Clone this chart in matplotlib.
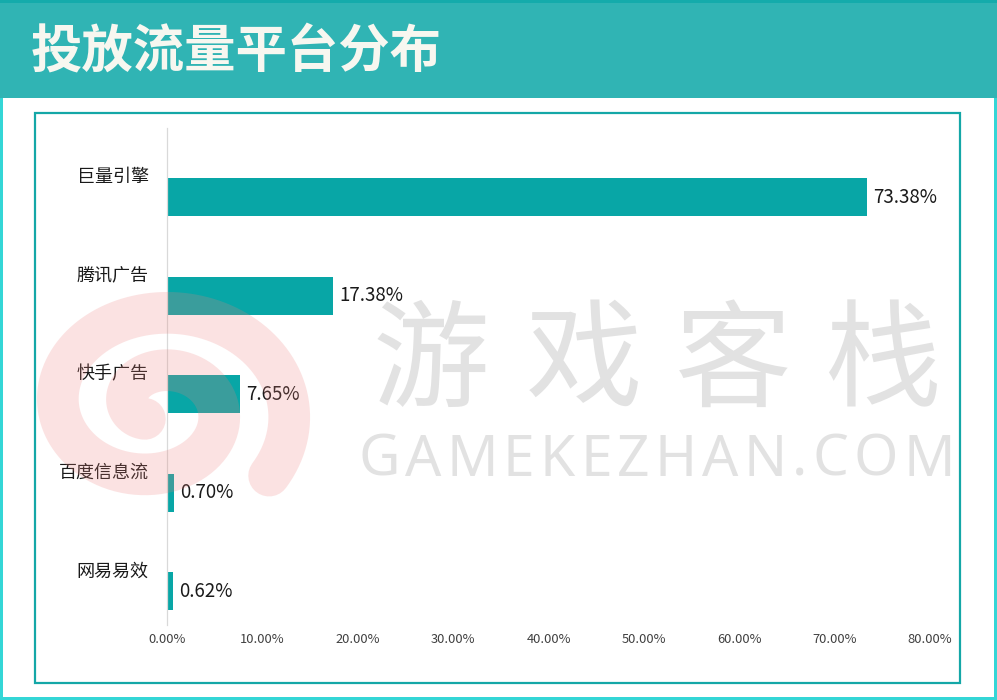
import matplotlib
matplotlib.use('Agg')
import matplotlib.pyplot as plt
from matplotlib.patches import Rectangle
import numpy as np

plt.rcParams['font.family'] = ['Noto Sans CJK SC', 'DejaVu Sans']

# ---- data ----
categories = ['巨量引擎', '腾讯广告', '快手广告', '百度信息流', '网易易效']
values = [73.38, 17.38, 7.65, 0.70, 0.62]
x_ticks = [0, 10, 20, 30, 40, 50, 60, 70, 80]

title = '投放流量平台分布'

# ---- colours ----
header_teal = '#30b4b4'
header_top = '#14abab'
frame_cyan = '#34d6d6'
inner_border = '#14a7a7'
bar_teal = '#08a6a6'
text_dark = '#1a1a1a'
tick_grey = '#404040'

W, H = 997, 700
fig = plt.figure(figsize=(W / 100, H / 100), dpi=100)
fig.patch.set_facecolor('white')

# background / frame drawn in pixel coordinates
bg = fig.add_axes([0, 0, 1, 1], zorder=0)
bg.set_xlim(0, W)
bg.set_ylim(H, 0)
bg.axis('off')
bg.add_patch(Rectangle((0, 0), W, H, facecolor=frame_cyan, edgecolor='none'))
bg.add_patch(Rectangle((3, 98), W - 6, H - 101, facecolor='white', edgecolor='none'))
bg.add_patch(Rectangle((0, 0), W, 98, facecolor=header_teal, edgecolor='none'))
bg.add_patch(Rectangle((0, 0), W, 3, facecolor=header_top, edgecolor='none'))
bg.add_patch(Rectangle((35, 113), 925, 570, facecolor='white',
                       edgecolor=inner_border, linewidth=1.6))
bg.text(31, 51, title, ha='left', va='center', fontsize=37,
        fontweight='bold', color='#f7f7f0')

# ---- bar chart ----
ax = fig.add_axes([167 / W, 1 - 625 / H, 763 / W, 497 / H], zorder=1)
ax.patch.set_alpha(0)
ypos = np.arange(len(categories))
ax.barh(ypos, values, height=0.385, color=bar_teal, edgecolor='none')
ax.set_xlim(0, 80)
ax.set_ylim(len(categories) - 1 + 0.34, -0.70)

for sp in ['top', 'right', 'bottom']:
    ax.spines[sp].set_visible(False)
ax.spines['left'].set_color('#d9d9d9')
ax.spines['left'].set_linewidth(0.9)

ax.set_yticks([])
ax.set_xticks(x_ticks)
ax.set_xticklabels([f'{t:.2f}%' for t in x_ticks], fontsize=9.3, color=tick_grey)
ax.tick_params(axis='x', length=0, pad=6)

# category labels sit slightly above each bar
for i, name in enumerate(categories):
    ax.text(-0.024, i - 0.2, name, transform=ax.get_yaxis_transform(),
            ha='right', va='center', fontsize=13, color=text_dark)

for i, v in enumerate(values):
    ax.annotate(f'{v:.2f}%', xy=(v, i), xytext=(4.5, 0), textcoords='offset points',
                ha='left', va='center', fontsize=13.5, color=text_dark)

# ---- watermark overlay ----
wm = fig.add_axes([0, 0, 1, 1], zorder=2)
wm.set_xlim(0, W)
wm.set_ylim(H, 0)
wm.axis('off')
wm.patch.set_alpha(0)

# pink swirl logo
th = np.radians(np.linspace(-36, 590, 500))
r = 1 - 0.5 * (np.degrees(th) + 42) / 360
cx, cy = 156, 408
sx = cx + 141 * r * np.cos(th)
sy = cy - 116 * r * np.sin(th)
wm.plot(sx, sy, color='#ee7f7c', alpha=0.22, linewidth=30,
        solid_capstyle='round', solid_joinstyle='round')

# grey site name
for ch, xc in zip('游戏客栈', [431, 584, 733, 882]):
    wm.text(xc, 365, ch, ha='center', va='center', fontsize=84,
            color='#cfcfcf', alpha=0.6)

# latin line, letter-spaced to fill the same width as the reference
site = 'GAMEKEZHAN.COM'
renderer = fig.canvas.get_renderer()
latin = dict(fontsize=41, color='#cfcfcf', alpha=0.6,
             family=['Noto Sans', 'DejaVu Sans'], fontweight='light')
widths = []
for ch in site:
    t = wm.text(0, 0, ch, **latin)
    widths.append(t.get_window_extent(renderer).width)
    t.remove()
x0, x1 = 358, 955
gap = (x1 - x0 - sum(widths)) / (len(site) - 1)
xc = x0
for ch, w in zip(site, widths):
    wm.text(xc, 461, ch, ha='left', va='center', **latin)
    xc += w + gap

fig.savefig('out.png', dpi=100, facecolor='white')
